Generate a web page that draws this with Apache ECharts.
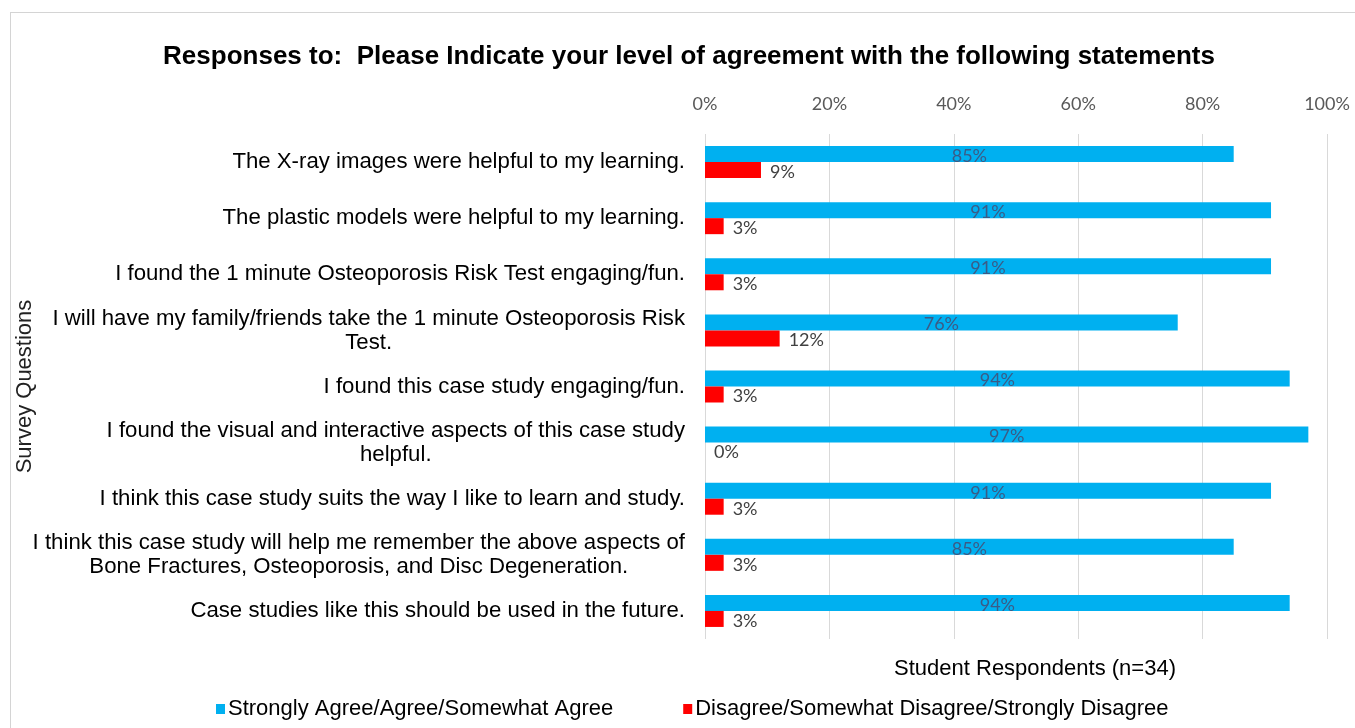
<!DOCTYPE html>
<html>
<head>
<meta charset="utf-8">
<script src="https://cdn.jsdelivr.net/npm/echarts@6/dist/echarts.min.js"></script>
<style>
  html, body { margin: 0; padding: 0; background: #fff; }
  #chart { position: absolute; left: 0; top: 0; width: 1355px; height: 728px; }
  #frame { position: absolute; left: 10px; top: 12px; width: 1400px; height: 800px;
           border-left: 1px solid #d4d4d4; border-top: 1px solid #d4d4d4; pointer-events: none; }
</style>
</head>
<body>
<div id="chart"></div>
<div id="frame"></div>
<script>
// Survey statements, top to bottom
const questions = [
  'The X-ray images were helpful to my learning.',
  'The plastic models were helpful to my learning.',
  'I found the 1 minute Osteoporosis Risk Test engaging/fun.',
  'I will have my family/friends take the 1 minute Osteoporosis Risk\nTest.',
  'I found this case study engaging/fun.',
  'I found the visual and interactive aspects of this case study\nhelpful.',
  'I think this case study suits the way I like to learn and study.',
  'I think this case study will help me remember the above aspects of\nBone Fractures, Osteoporosis, and Disc Degeneration.',
  'Case studies like this should be used in the future.'
];

// Percent of respondents (n=34)
const agreeValues = [85, 91, 91, 76, 94, 97, 91, 85, 94];
const disagreeValues = [9, 3, 3, 12, 3, 0, 3, 3, 3];

const seriesNames = [
  'Strongly Agree/Agree/Somewhat Agree',
  'Disagree/Somewhat Disagree/Strongly Disagree'
];

const percentTicks = [0, 20, 40, 60, 80, 100];

const ARIAL = '"Liberation Sans", Arial, sans-serif';
const CALIBRI = 'Lato, "Open Sans", sans-serif';

const chart = echarts.init(document.getElementById('chart'));

chart.setOption({
  backgroundColor: 'transparent',
  animation: false,
  title: [{
    text: 'Responses to:  Please Indicate your level of agreement with the following statements',
    left: 684,
    textAlign: 'center',
    top: 39,
    textStyle: { fontFamily: ARIAL, fontSize: 26, fontWeight: 'bold', color: '#000' }
  }, {
    text: 'Student Respondents (n=34)',
    left: 1030,
    textAlign: 'center',
    top: 653,
    textStyle: { fontFamily: ARIAL, fontSize: 22, fontWeight: 'normal', color: '#000' }
  }],
  legend: {
    top: 693,
    left: 211,
    itemWidth: 9,
    itemHeight: 10,
    itemGap: 70,
    icon: 'rect',
    data: seriesNames,
    textStyle: { fontFamily: ARIAL, fontSize: 22, color: '#000', padding: [0, 0, 0, -2] }
  },
  grid: {
    left: 705, right: 28, top: 134, bottom: 89,
    containLabel: false,
    outerBoundsMode: 'none'
  },
  xAxis: {
    type: 'value',
    position: 'top',
    min: percentTicks[0],
    max: percentTicks[percentTicks.length - 1],
    interval: percentTicks[1] - percentTicks[0],
    axisLine: { show: false },
    axisTick: { show: false },
    axisLabel: {
      formatter: '{value}%',
      margin: 21,
      fontFamily: CALIBRI,
      fontSize: 18,
      color: '#595959'
    },
    splitLine: { show: true, lineStyle: { color: '#d9d9d9', width: 1 } }
  },
  yAxis: {
    type: 'category',
    inverse: true,
    data: questions,
    name: 'Survey Questions',
    nameLocation: 'middle',
    nameRotate: 90,
    nameGap: 669,
    nameMoveOverlap: false,
    nameTextStyle: { fontFamily: ARIAL, fontSize: 22, color: '#222' },
    axisLine: { show: false },
    axisTick: { show: false },
    axisLabel: {
      margin: 20,
      // two-line statements are centred line by line inside a right-aligned block
      formatter: v => v.split('\n').map(l => '{c|' + l + '}').join('\n'),
      rich: {
        c: { align: 'center', fontFamily: ARIAL, fontSize: 22.2, color: '#000', lineHeight: 24 }
      }
    }
  },
  series: [{
    name: seriesNames[0],
    type: 'bar',
    data: agreeValues,
    barWidth: 16,
    barGap: '0%',
    itemStyle: { color: '#00b0f0' },
    label: {
      show: true,
      position: 'inside',
      offset: [0, 2],
      formatter: '{c}%',
      fontFamily: CALIBRI,
      fontSize: 18,
      color: '#3b5b86'
    }
  }, {
    name: seriesNames[1],
    type: 'bar',
    data: disagreeValues,
    barWidth: 16,
    barGap: '0%',
    itemStyle: { color: '#ff0000' },
    label: {
      show: true,
      position: 'right',
      distance: 9,
      offset: [0, 2],
      formatter: '{c}%',
      fontFamily: CALIBRI,
      fontSize: 18,
      color: '#404040'
    }
  }]
});
</script>
</body>
</html>
